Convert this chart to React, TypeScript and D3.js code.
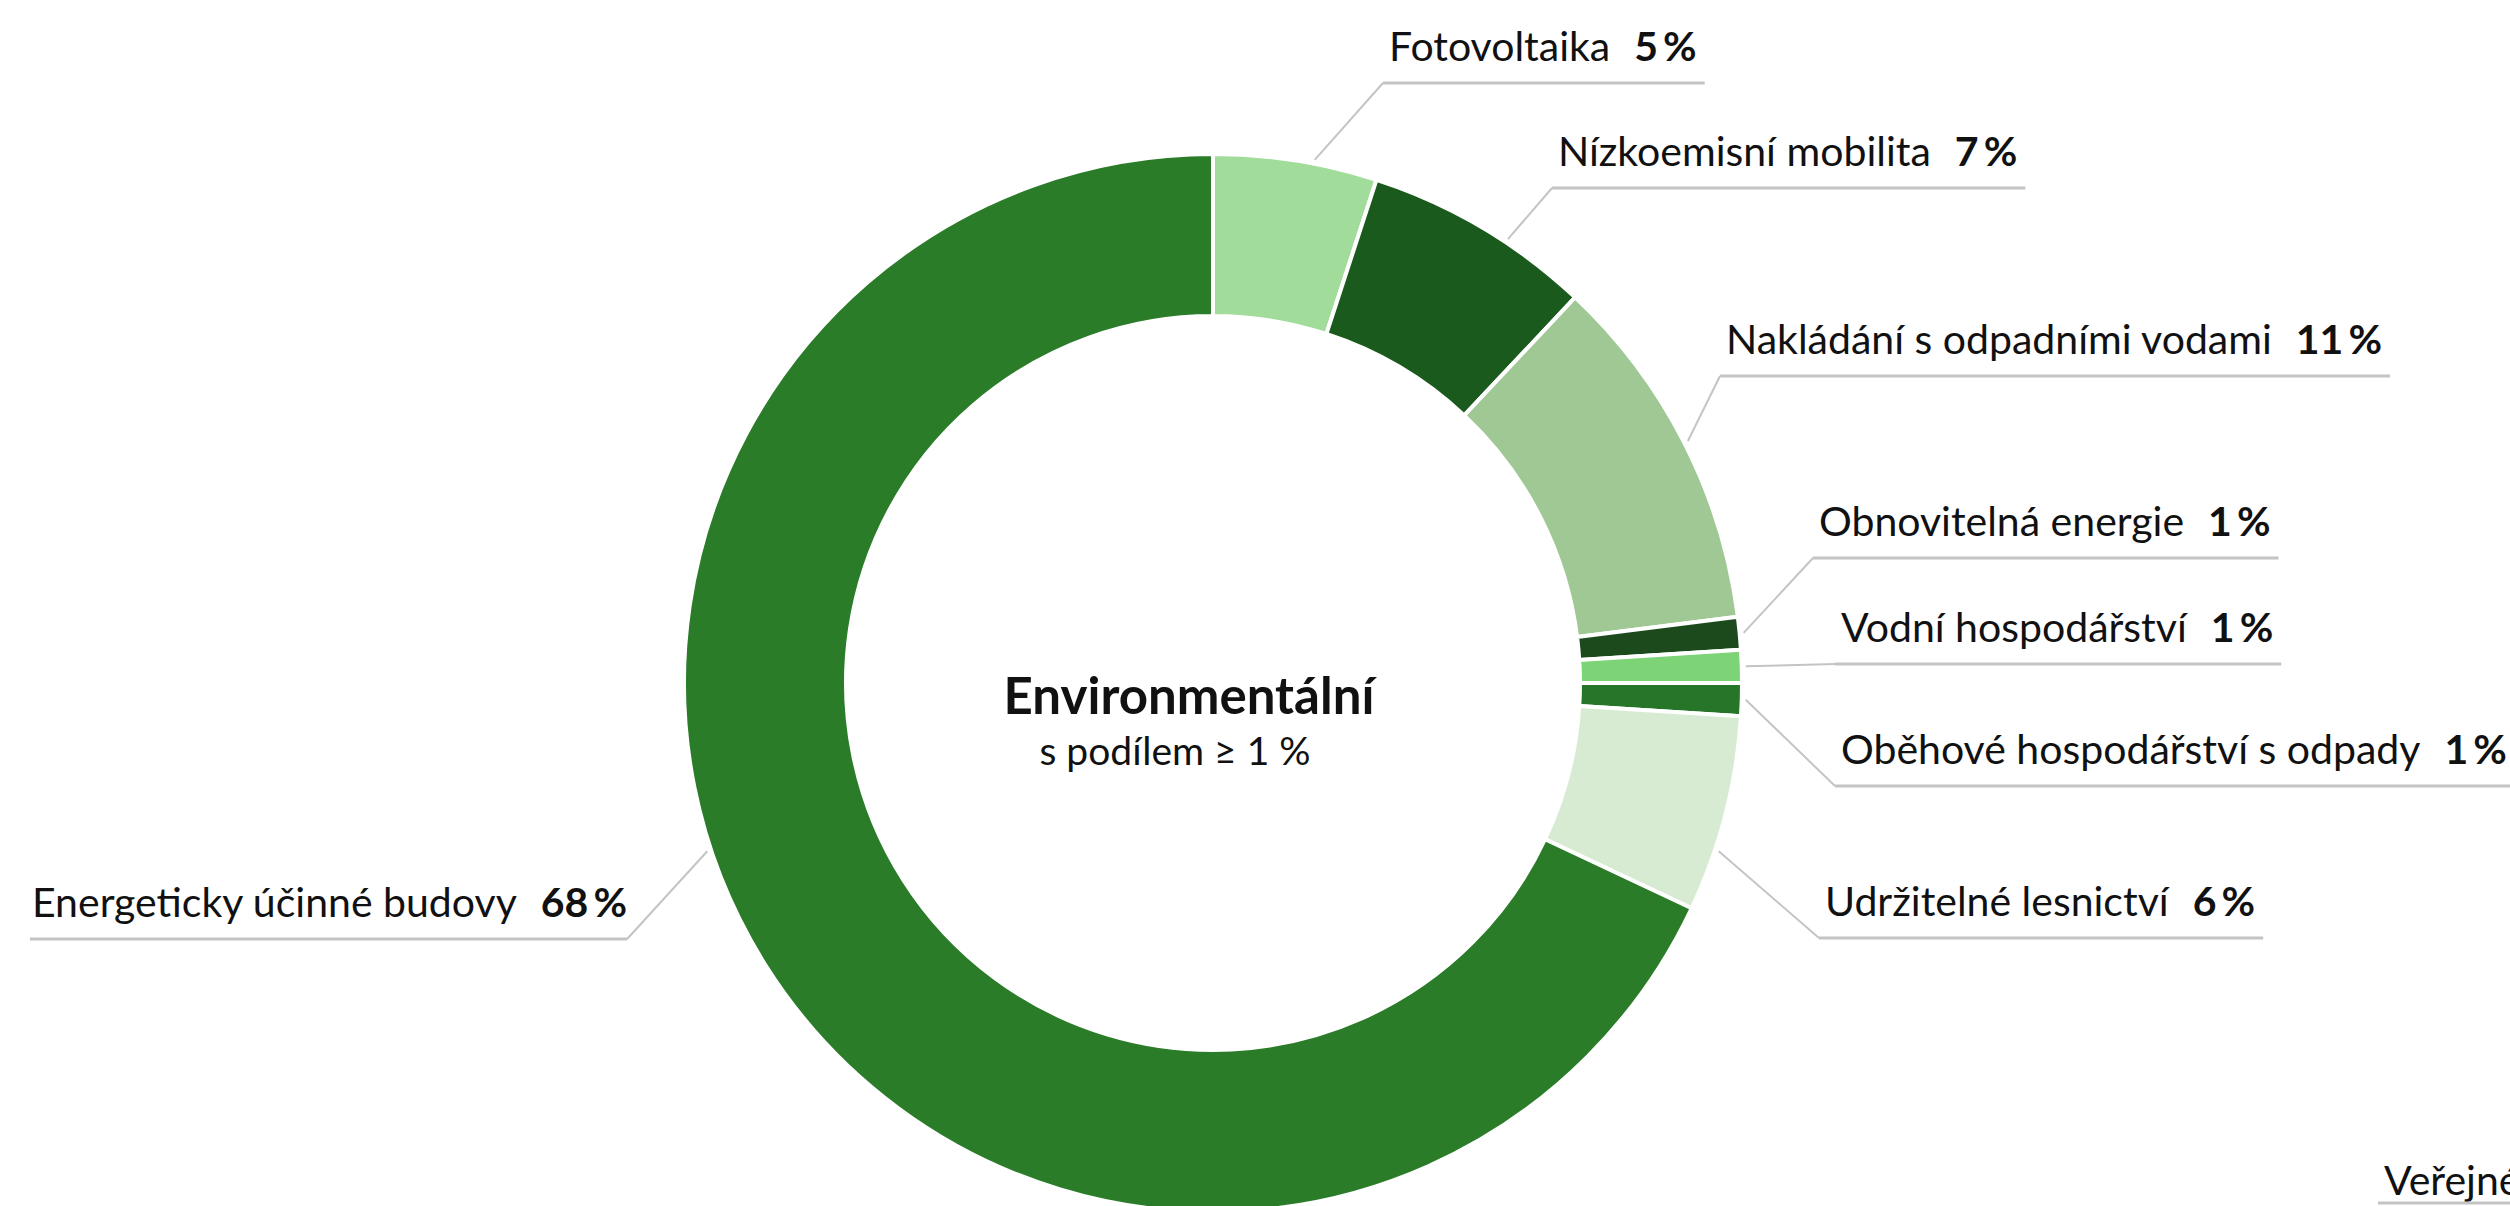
import { useEffect, useRef } from 'react';
import * as d3 from 'd3';

// shares of the environmental categories (only those with >= 1 %)
const categories = [
  'Fotovoltaika',
  'Nízkoemisní mobilita',
  'Nakládání s odpadními vodami',
  'Obnovitelná energie',
  'Vodní hospodářství',
  'Oběhové hospodářství s odpady',
  'Udržitelné lesnictví',
  'Energeticky účinné budovy'
];
const shares = [5, 7, 11, 1, 1, 1, 6, 68];
const colors = ['#a2dc9b', '#1b5a1d', '#9fc895', '#1c4a1d', '#7dd477', '#267528', '#d6ebd2', '#2a7c28'];

// label placement: text start x, baseline y, side, nudge of the leader anchor (deg)
const labelX = [1389, 1558, 1726, 1819, 1841, 1841, 1825, 32];
const labelY = [61, 166, 354, 536, 642, 764, 916, 917];
const labelSide = ['r', 'r', 'r', 'r', 'r', 'r', 'r', 'l'];
const anchorShift = [2, 3, 0, 0, 0, 0, 4, 14];

const title = 'Environmentální';
const subtitle = 's podílem ≥ 1 %';
const cutLabel = 'Veřejné';

const fmt = (v: number) => `${v}\u2009%`;

export default function App() {
  const svgRef = useRef<SVGSVGElement>(null);

  useEffect(() => {
    if (!svgRef.current) return;
    const width = 2510;
    const height = 1206;
    const cx = 1213;
    const cy = 683;
    const outer = 529;
    const inner = 367;
    const font = '"Source Sans Pro", Lato, "Noto Sans", sans-serif';
    const fontSize = 41;
    const lineColor = '#c4c4c4';

    const svg = d3.select(svgRef.current);
    svg.selectAll('*').remove();
    svg.attr('width', width).attr('height', height);

    svg.append('rect').attr('width', width).attr('height', height).attr('fill', '#ffffff');

    const pie = d3.pie<number>().value(d => d).sort(null);
    const arcs = pie(shares);
    const arc = d3.arc<d3.PieArcDatum<number>>().innerRadius(inner).outerRadius(outer);

    const g = svg.append('g').attr('transform', `translate(${cx},${cy})`);
    g.selectAll('path')
      .data(arcs)
      .enter()
      .append('path')
      .attr('d', arc)
      .attr('fill', (d, i) => colors[i])
      .attr('stroke', '#ffffff')
      .attr('stroke-width', 4)
      .attr('stroke-linejoin', 'round');

    // center text
    svg.append('text')
      .attr('x', cx - 24)
      .attr('y', 714)
      .attr('text-anchor', 'middle')
      .attr('font-family', font)
      .attr('font-size', 51)
      .attr('font-weight', 700)
      .attr('fill', '#111')
      .text(title);

    svg.append('text')
      .attr('x', cx - 38)
      .attr('y', 765)
      .attr('text-anchor', 'middle')
      .attr('font-family', font)
      .attr('font-size', 39)
      .attr('fill', '#111')
      .text(subtitle);

    const labels = svg.append('g');
    arcs.forEach((d, i) => {
      const side = labelSide[i];
      const baseY = labelY[i];
      const lineY = baseY + 22;
      const t = labels.append('text')
        .attr('x', labelX[i])
        .attr('y', baseY)
        .attr('font-family', font)
        .attr('font-size', fontSize)
        .attr('fill', '#111');
      t.append('tspan').text(categories[i]);
      t.append('tspan')
        .attr('dx', 24)
        .attr('font-weight', 700)
        .text(fmt(shares[i]));
      const w = (t.node() as SVGTextElement).getComputedTextLength() + 24;
      let x0: number;
      let x1: number;
      let joinX: number;
      if (side === 'r') {
        x0 = labelX[i] - 6;
        x1 = labelX[i] + w + 8;
        joinX = x0;
      } else {
        x0 = labelX[i] - 2;
        x1 = labelX[i] + w;
        joinX = x1;
      }
      const a = (d.startAngle + d.endAngle) / 2 + (anchorShift[i] * Math.PI) / 180;
      const ax = cx + (outer + 4) * Math.sin(a);
      const ay = cy - (outer + 4) * Math.cos(a);
      labels.insert('path', 'text')
        .attr('d', d3.line()([[ax, ay], [joinX, lineY]]))
        .attr('fill', 'none')
        .attr('stroke', lineColor)
        .attr('stroke-width', 2);
      labels.insert('path', 'text')
        .attr('d', d3.line()([[x0, lineY], [x1, lineY]]))
        .attr('fill', 'none')
        .attr('stroke', lineColor)
        .attr('stroke-width', 3);
    });

    // label of the neighbouring chart, cut by the right edge
    svg.append('text')
      .attr('x', 2384)
      .attr('y', 1195)
      .attr('font-family', font)
      .attr('font-size', fontSize)
      .attr('fill', '#111')
      .text(cutLabel);
    svg.append('path')
      .attr('d', d3.line()([[2378, 1203], [width, 1203]]))
      .attr('stroke', lineColor)
      .attr('stroke-width', 3);
  }, []);

  return (
    <div style={{ position: 'absolute', left: 0, top: 0, width: 2510, height: 1206, overflow: 'hidden', background: '#fff' }}>
      <svg ref={svgRef} style={{ display: 'block' }} />
    </div>
  );
}
